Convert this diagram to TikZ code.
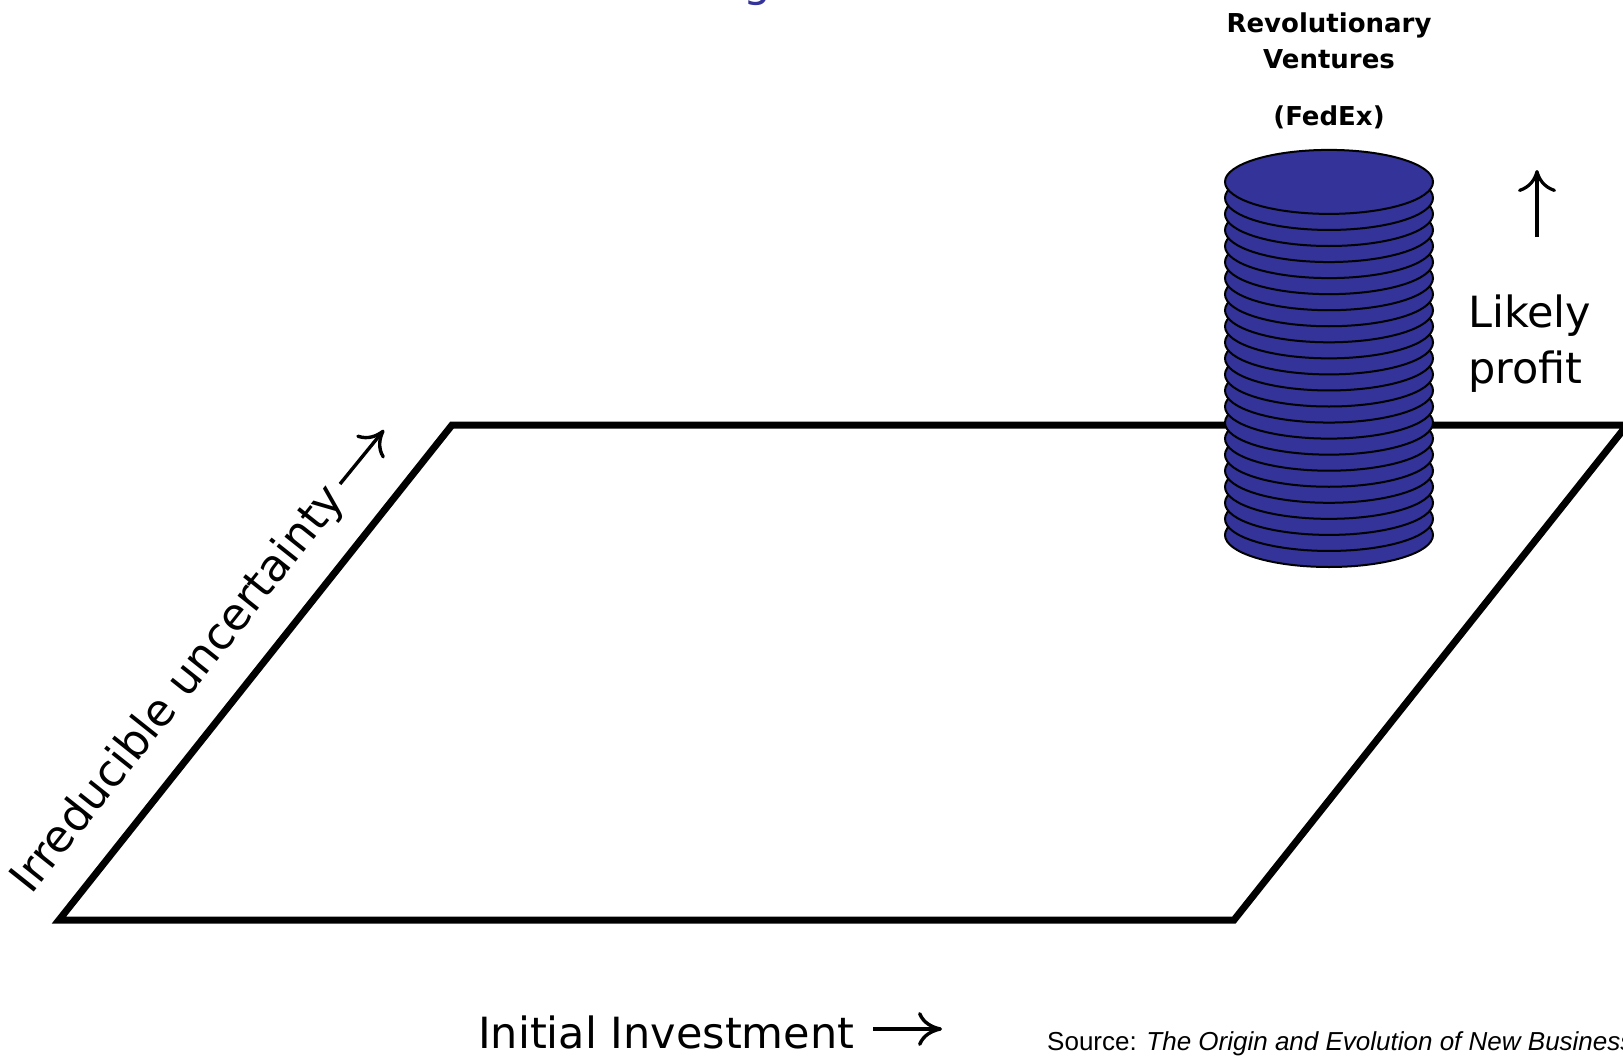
\documentclass[tikz,border=0pt]{standalone}
\usepackage{fontspec}
\setmainfont{DejaVu Sans}
\newfontfamily\srcfont{Liberation Sans}
\usetikzlibrary{arrows.meta}
\definecolor{coinblue}{RGB}{51,51,153}
\begin{document}
\begin{tikzpicture}[x=1pt, y=-1pt,
  plane/.style={draw=black, line width=7pt, line join=miter},
  coin/.style={draw=black, fill=coinblue, line width=2pt},
  biglabel/.style={font=\fontsize{43}{56}\selectfont, inner sep=0pt},
  venture/.style={font=\bfseries\fontsize{26}{36}\selectfont, inner sep=0pt},
  axisarrow/.style={line width=3.4pt, line cap=butt,
    -{Computer Modern Rightarrow[length=24pt, width=34pt]}},
  profitarrow/.style={line width=3.2pt, line cap=butt,
    -{Computer Modern Rightarrow[length=22pt, width=38pt]}},
  uncertarrow/.style={line width=3.4pt, line cap=butt,
    -{Computer Modern Rightarrow[length=23pt, width=36pt]}}
]
\useasboundingbox (0,0) rectangle (1623,1060);

% heading, mostly above the page
\node[anchor=base, inner sep=0pt, text=coinblue, font=\fontsize{44}{50}\selectfont]
  (title) at (757,-4) {g};

% the investment / uncertainty plane
\coordinate (bl) at (59,920);
\coordinate (br) at (1234,920);
\coordinate (tr) at (1627,425);
\coordinate (tl) at (452,425);
\draw[plane] (bl) -- (br) -- (tr) -- (tl) -- cycle;

% stack of coins, bottom coin first
\foreach \i in {0,...,22}{
  \path[coin] (1329,{535-16.05*\i}) ellipse [x radius=104pt, y radius=32pt];
}

% labels over the stack
\node[venture, anchor=base] (rev) at (1329,32) {Revolutionary};
\node[venture, anchor=base] (ven) at (1329,68) {Ventures};
\node[venture, anchor=base] (fedex) at (1329,125) {(FedEx)};

% likely profit axis
\coordinate (pfoot) at (1537,237);
\coordinate (phead) at (1537,170);
\draw[profitarrow] (pfoot) -- (phead);
\node[biglabel, anchor=base west] (likely) at (1468,327) {Likely};
\node[biglabel, anchor=base west] (profit) at (1468,383) {profit};

% initial investment axis
\node[biglabel, anchor=base west] (invest) at (478,1048) {Initial Investment};
\coordinate (ifoot) at (873,1029);
\coordinate (ihead) at (942,1029);
\draw[axisarrow] (ifoot) -- (ihead);

% irreducible uncertainty axis
\node[biglabel, anchor=base west, rotate=51.5, font=\fontsize{44.5}{56}\selectfont]
  (uncert) at (31,896) {Irreducible uncertainty};
\coordinate (ufoot) at (340,484);
\coordinate (uhead) at (384,430);
\draw[uncertarrow] (ufoot) -- (uhead);

% source line
\node[anchor=base west, inner sep=0pt, font=\srcfont\fontsize{26}{30}\selectfont]
  (src) at (1047,1050) {Source: \textit{The Origin and Evolution of New Businesses}};
\end{tikzpicture}
\end{document}
